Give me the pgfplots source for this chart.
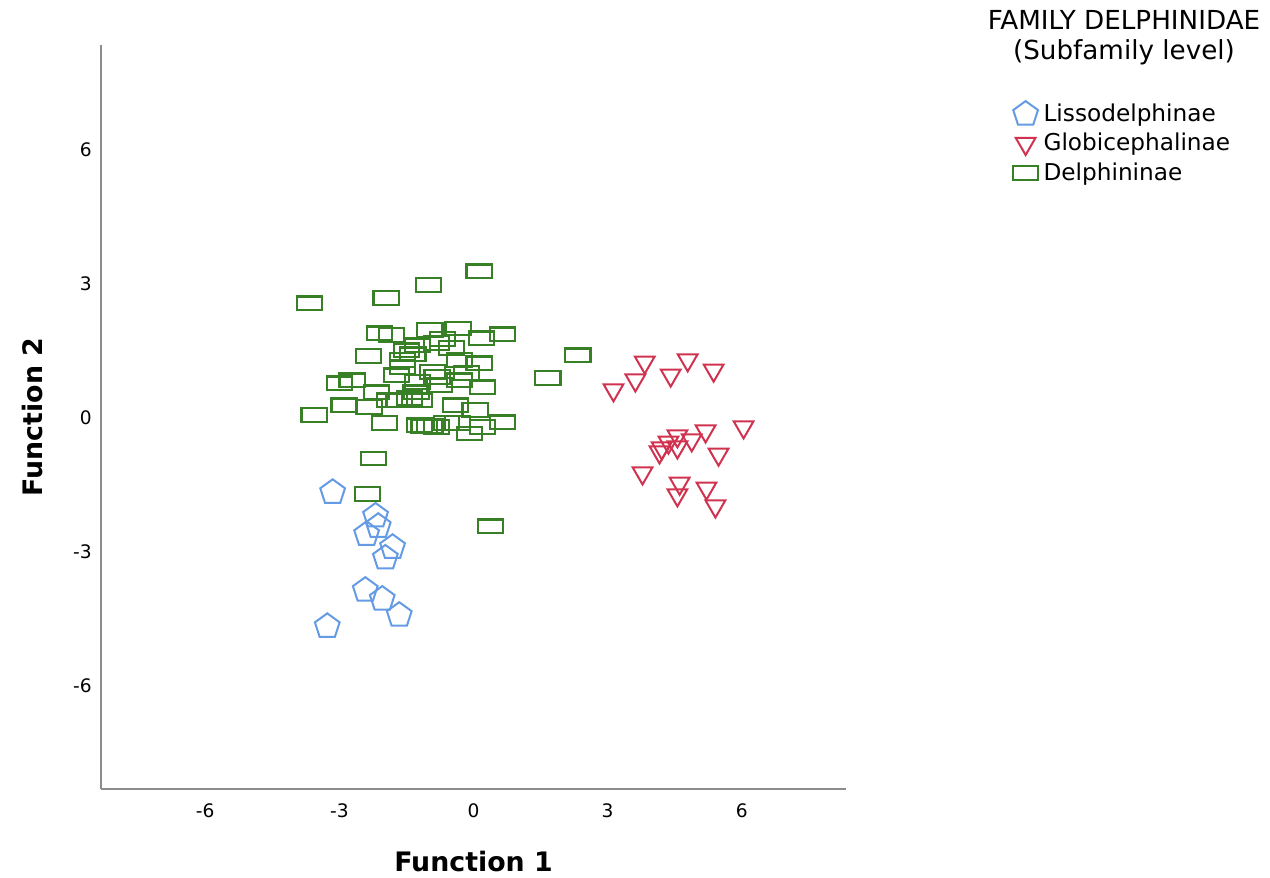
\documentclass[border=0pt]{standalone}
\usepackage{fontspec}
\setmainfont{DejaVu Sans}
\usepackage{pgfplots}
\pgfplotsset{compat=1.18}
\usetikzlibrary{plotmarks}

\definecolor{lisso}{RGB}{100,155,228}
\definecolor{globi}{RGB}{208,50,80}
\definecolor{delph}{RGB}{55,128,38}
\definecolor{axisgray}{RGB}{140,140,140}

% open rectangle, wider than tall
\pgfdeclareplotmark{widerect}{%
  \pgfpathrectangle{\pgfpoint{-1.9\pgfplotmarksize}{-\pgfplotmarksize}}%
                   {\pgfpoint{3.8\pgfplotmarksize}{2\pgfplotmarksize}}%
  \pgfusepathqstroke}

\begin{document}
\begin{tikzpicture}
\path[use as bounding box] (-50.5pt,-44.5pt) rectangle (584.5pt,394.5pt);
\begin{axis}[
  at={(0pt,0pt)}, anchor=south west,
  scale only axis, width=372.5pt, height=372pt,
  xmin=-8.33, xmax=8.33, ymin=-8.3, ymax=8.35,
  axis lines*=left,
  axis line style={axisgray, line width=0.8pt},
  xtick={-6,-3,0,3,6}, ytick={-6,-3,0,3,6},
  major tick length=0pt, tick style={draw=none},
  /pgf/number format/assume math mode=true,
  ticklabel style={font=\fontsize{9.3}{10}\selectfont, inner sep=0pt},
  xticklabel style={anchor=center, yshift=-11pt},
  yticklabel style={anchor=east, xshift=-4.5pt},
  xlabel={Function 1}, ylabel={Function 2},
  xlabel style={font=\bfseries\fontsize{13.4}{15}\selectfont,
    at={(axis description cs:0.5,0)}, anchor=center, yshift=-36.5pt},
  ylabel style={font=\bfseries\fontsize{13.4}{15}\selectfont,
    at={(axis description cs:0,0.5)}, anchor=center, rotate=0, yshift=34pt},
  only marks,
  legend image code/.code={\draw[#1] plot coordinates {(0pt,0pt)};},
  legend cell align=left,
  legend style={draw=none, fill=none, inner sep=0pt,
    at={(axis description cs:1.2235,0.9275)}, anchor=north west,
    column sep=1.6pt, row sep=0pt,
    nodes={font=\fontsize{11.6}{14}\selectfont, inner sep=1pt,
      text height=10pt, text depth=2.75pt}},
]
% Lissodelphinae
\addplot[mark=pentagon, mark size=6.5pt,
  mark options={draw=lisso, line width=1pt, fill=none}] coordinates {
  (-3.15,-1.66) (-2.19,-2.19) (-2.13,-2.42) (-2.39,-2.60) (-1.81,-2.89)
  (-1.97,-3.13) (-2.42,-3.85) (-2.04,-4.05) (-1.66,-4.41) (-3.27,-4.66)
};
\addlegendentry{Lissodelphinae}
% Globicephalinae
\addplot[mark=triangle, mark size=5.7pt,
  mark options={draw=globi, line width=1pt, fill=none, rotate=180}] coordinates {
  (3.13,0.63) (3.62,0.85) (3.83,1.25) (4.41,0.96) (4.79,1.30) (5.37,1.07)
  (6.04,-0.20) (5.19,-0.29) (4.88,-0.49) (4.56,-0.40) (4.56,-0.65) (4.36,-0.54)
  (4.21,-0.67) (4.16,-0.76) (5.48,-0.81) (3.78,-1.23) (4.61,-1.46) (4.56,-1.72)
  (5.21,-1.57) (5.41,-1.97)
};
\addlegendentry{Globicephalinae}
% Delphininae
\addplot[mark=widerect, mark size=3.35pt,
  mark options={draw=delph, line width=1.1pt, fill=none}] coordinates {
  (0.13,3.29) (-1.01,2.98) (-1.95,2.69) (-3.67,2.57)
  (-2.10,1.90) (-1.83,1.86) (-0.98,1.97) (-0.34,2.01) (0.65,1.88) (0.18,1.79)
  (-0.69,1.77) (-0.83,1.68) (-1.25,1.63) (-0.49,1.57) (-1.50,1.52) (-2.35,1.39)
  (-1.36,1.43) (0.13,1.23) (-0.31,1.30) (-1.59,1.30) (-1.59,1.14) (-0.92,1.03)
  (-0.16,1.01) (-0.81,0.92) (-1.72,0.96) (1.66,0.90) (2.33,1.41) (-2.71,0.85)
  (-3.00,0.78) (-1.25,0.81) (-0.31,0.85) (0.20,0.69) (-0.76,0.74) (-2.17,0.58)
  (-1.28,0.58) (-1.66,0.40) (-1.43,0.45) (-1.88,0.40) (-1.21,0.40) (-2.89,0.29)
  (-2.33,0.25) (-3.56,0.07) (-0.40,0.29) (0.04,0.18) (-1.99,-0.11) (-1.21,-0.16)
  (-1.10,-0.18) (-0.98,-0.18) (-0.83,-0.20) (-0.60,-0.11) (-0.36,-0.11) (0.20,-0.20)
  (0.65,-0.09) (-0.09,-0.34) (-2.24,-0.90) (-2.37,-1.70) (0.38,-2.42)
};
\addlegendentry{Delphininae}
\end{axis}
\node[align=center, font=\fontsize{13.1}{15}\selectfont] at (511.5pt,375.5pt)
  {FAMILY DELPHINIDAE\\(Subfamily level)};
\end{tikzpicture}
\end{document}
